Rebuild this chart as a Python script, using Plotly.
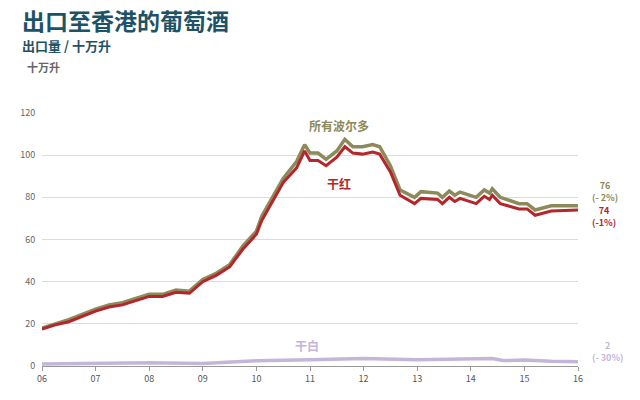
import plotly.graph_objects as go

years_all = [6.0,6.25,6.5,6.75,7.0,7.25,7.5,7.75,8.0,8.25,8.5,8.75,9.0,9.25,9.5,9.75,10.0,10.1,10.25,10.5,10.75,10.9,11.0,11.15,11.3,11.5,11.65,11.8,11.98,12.17,12.3,12.5,12.68,12.95,13.07,13.38,13.47,13.6,13.7,13.8,14.1,14.25,14.35,14.4,14.55,14.9,15.05,15.2,15.5,16.0]
all_bordeaux = [18,20,22,24.5,27,29,30,32,34,34,36,35.5,41,44,48,57,64,71,78,89,97,105,101,101,98,102,107.5,104,104,105,104,95,83.5,80,82.7,82,80,83,81,82.5,80,83.5,82,84,80,77,77,74,76,76]
dry_red = [17.5,19.5,21,23.5,26,28,29,31,33,33,35,34.5,40,43,47,55.5,62.5,69,76,87,94,102,97.5,97.5,95,99,104,101,100.5,101.5,100.5,92,81,77,79.5,79,77,80,78,79.5,77,80.5,79,81,77,74.5,74.5,71.5,73.5,74]
years_white = [6.0,7.0,8.0,9.0,10.0,11.0,12.0,13.0,13.5,14.0,14.4,14.6,15.0,15.5,16.0]
dry_white = [1,1.3,1.6,1.2,2.5,3.0,3.5,3.0,3.3,3.5,3.6,2.6,2.8,2.2,2.0]
x_ticks = [6,7,8,9,10,11,12,13,14,15,16]
x_labels = ["06","07","08","09","10","11","12","13","14","15","16"]

OLIVE = "#8c8a5a"
RED = "#b5252b"
WHITE = "#c3b6d8"
FONT = "Noto Sans CJK SC"

fig = go.Figure()
fig.add_trace(go.Scatter(x=years_white, y=dry_white, mode="lines", line=dict(color=WHITE, width=3.5), hoverinfo="skip"))
fig.add_trace(go.Scatter(x=years_all, y=all_bordeaux, mode="lines", line=dict(color=OLIVE, width=3.5), hoverinfo="skip"))
fig.add_trace(go.Scatter(x=years_all, y=dry_red, mode="lines", line=dict(color=RED, width=3), hoverinfo="skip"))

for a in [(11.55, 114, "所有波尔多", OLIVE), (11.55, 86.5, "干红", RED), (10.95, 9.5, "干白", WHITE)]:
    fig.add_annotation(x=a[0], y=a[1], text="<b>"+a[2]+"</b>", showarrow=False,
                       font=dict(color=a[3], size=12, family=FONT))
for yv, txt, col in [(83, "<b>76</b><br><b>(- 2%)</b>", OLIVE), (71, "<b>74</b><br><b>(-1%)</b>", RED), (7, "<b>2</b><br><b>(- 30%)</b>", WHITE)]:
    fig.add_annotation(x=1.0, xref="paper", xanchor="left", xshift=12, y=yv, text=txt, showarrow=False,
                       font=dict(color=col, size=9, family=FONT), align="center")

# header texts: pixel positions converted to paper coords (plot 536x253, origin at x=42,y=366)
for xpx, ypx, txt, sz, col in [
    (20, 20, "<b>出口至香港的葡萄酒</b>", 23, "#1e5266"),
    (20, 45, "<b>出口量 / 十万升</b>", 13, "#1e5266"),
    (25, 67, "<b>十万升</b>", 11, "#666"),
]:
    fig.add_annotation(x=(xpx - 42) / 536, xref="paper", xanchor="left", y=(366 - ypx) / 253, yref="paper",
                       yanchor="middle", text=txt, showarrow=False, font=dict(size=sz, color=col, family=FONT))

fig.update_layout(
    width=640, height=400,
    margin=dict(l=34, r=70, t=105, b=42),
    paper_bgcolor="white", plot_bgcolor="white",
    showlegend=False,
    font=dict(family=FONT),
    xaxis=dict(range=[6, 16], tickvals=x_ticks, ticktext=x_labels, showgrid=False,
               showline=True, linecolor="#999", ticks="outside", ticklen=4, tickcolor="#999",
               tickfont=dict(size=9, color="#555"), zeroline=False),
    yaxis=dict(range=[0, 120], dtick=20, showgrid=True, gridcolor="#dcdcdc",
               tickfont=dict(size=9, color="#666"), zeroline=False, showline=False,
               ticks="outside", ticklen=4, tickcolor="rgba(0,0,0,0)"),
)

fig.write_html("out.html")
